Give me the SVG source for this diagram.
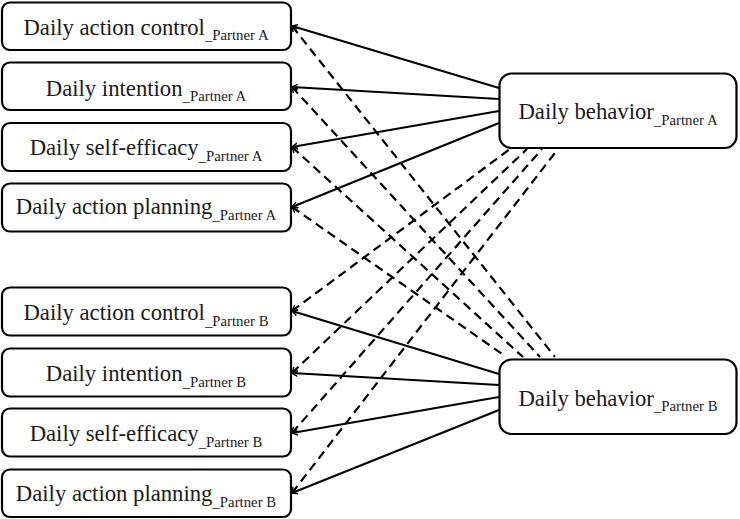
<svg xmlns="http://www.w3.org/2000/svg" width="740" height="519" viewBox="0 0 740 519">
<style>
.box{fill:#fff;stroke:#000;stroke-width:2.2}
.lbl{font-family:"Liberation Serif","Times New Roman",serif;font-size:22.7px;fill:#1a1a1a;text-anchor:middle}
.sub{font-size:14.8px}
.c{stroke:#000;stroke-width:2.2;fill:none;marker-start:url(#ah)}
.d{stroke-dasharray:9 5.5}
</style>
<defs>
<marker id="ah" markerUnits="userSpaceOnUse" markerWidth="8" markerHeight="8" refX="6" refY="3.5" orient="auto-start-reverse" viewBox="0 0 8 7">
<path d="M0.5,0.5 L6,3.5 L0.5,6.5" fill="none" stroke="#000" stroke-width="1.4"/>
</marker>
</defs>
<rect width="740" height="519" fill="#fff"/>
<g id="connectors">
<line class="c" x1="292" y1="26" x2="499" y2="88"/>
<line class="c" x1="292" y1="87" x2="499" y2="99"/>
<line class="c" x1="292" y1="147" x2="499" y2="111"/>
<line class="c" x1="292" y1="207" x2="499" y2="123"/>
<line class="c" x1="292" y1="311" x2="499" y2="374"/>
<line class="c" x1="292" y1="373" x2="499" y2="385"/>
<line class="c" x1="292" y1="433" x2="499" y2="397"/>
<line class="c" x1="292" y1="493" x2="499" y2="410"/>
<line class="c d" x1="292" y1="26" x2="555" y2="357"/>
<line class="c d" x1="292" y1="87" x2="540" y2="357"/>
<line class="c d" x1="292" y1="147" x2="523" y2="357"/>
<line class="c d" x1="292" y1="207" x2="505" y2="356"/>
<line class="c d" x1="292" y1="311" x2="510" y2="149"/>
<line class="c d" x1="292" y1="373" x2="527" y2="149"/>
<line class="c d" x1="292" y1="433" x2="542" y2="149"/>
<line class="c d" x1="292" y1="493" x2="558" y2="149"/>
</g>
<g id="n1"><rect class="box" x="2" y="2.5" width="289" height="47.5" rx="8"/><text class="lbl" x="146" y="34.5">Daily action control<tspan class="sub" dy="5.5">_Partner A</tspan></text></g>
<g id="n2"><rect class="box" x="2" y="62.5" width="289" height="47.5" rx="8"/><text class="lbl" x="146" y="95.5">Daily intention<tspan class="sub" dy="5.5">_Partner A</tspan></text></g>
<g id="n3"><rect class="box" x="2" y="123" width="289" height="48" rx="8"/><text class="lbl" x="146" y="155">Daily self-efficacy<tspan class="sub" dy="5.5">_Partner A</tspan></text></g>
<g id="n4"><rect class="box" x="2" y="183.5" width="289" height="48" rx="8"/><text class="lbl" x="146" y="214">Daily action planning<tspan class="sub" dy="5.5">_Partner A</tspan></text></g>
<g id="n5"><rect class="box" x="2" y="287.5" width="289" height="48" rx="8"/><text class="lbl" x="146" y="320">Daily action control<tspan class="sub" dy="5.5">_Partner B</tspan></text></g>
<g id="n6"><rect class="box" x="2" y="348.5" width="289" height="48" rx="8"/><text class="lbl" x="146" y="381">Daily intention<tspan class="sub" dy="5.5">_Partner B</tspan></text></g>
<g id="n7"><rect class="box" x="2" y="408.5" width="289" height="48" rx="8"/><text class="lbl" x="146" y="441">Daily self-efficacy<tspan class="sub" dy="5.5">_Partner B</tspan></text></g>
<g id="n8"><rect class="box" x="2" y="469.5" width="289" height="47.5" rx="8"/><text class="lbl" x="146" y="501">Daily action planning<tspan class="sub" dy="5.5">_Partner B</tspan></text></g>
<g id="bA"><rect class="box" x="499.5" y="73.5" width="237" height="74.5" rx="12"/><text class="lbl" x="618" y="119">Daily behavior<tspan class="sub" dy="5.5">_Partner A</tspan></text></g>
<g id="bB"><rect class="box" x="499.5" y="359.5" width="237" height="74.5" rx="12"/><text class="lbl" x="618" y="405.5">Daily behavior<tspan class="sub" dy="5.5">_Partner B</tspan></text></g>
</svg>
